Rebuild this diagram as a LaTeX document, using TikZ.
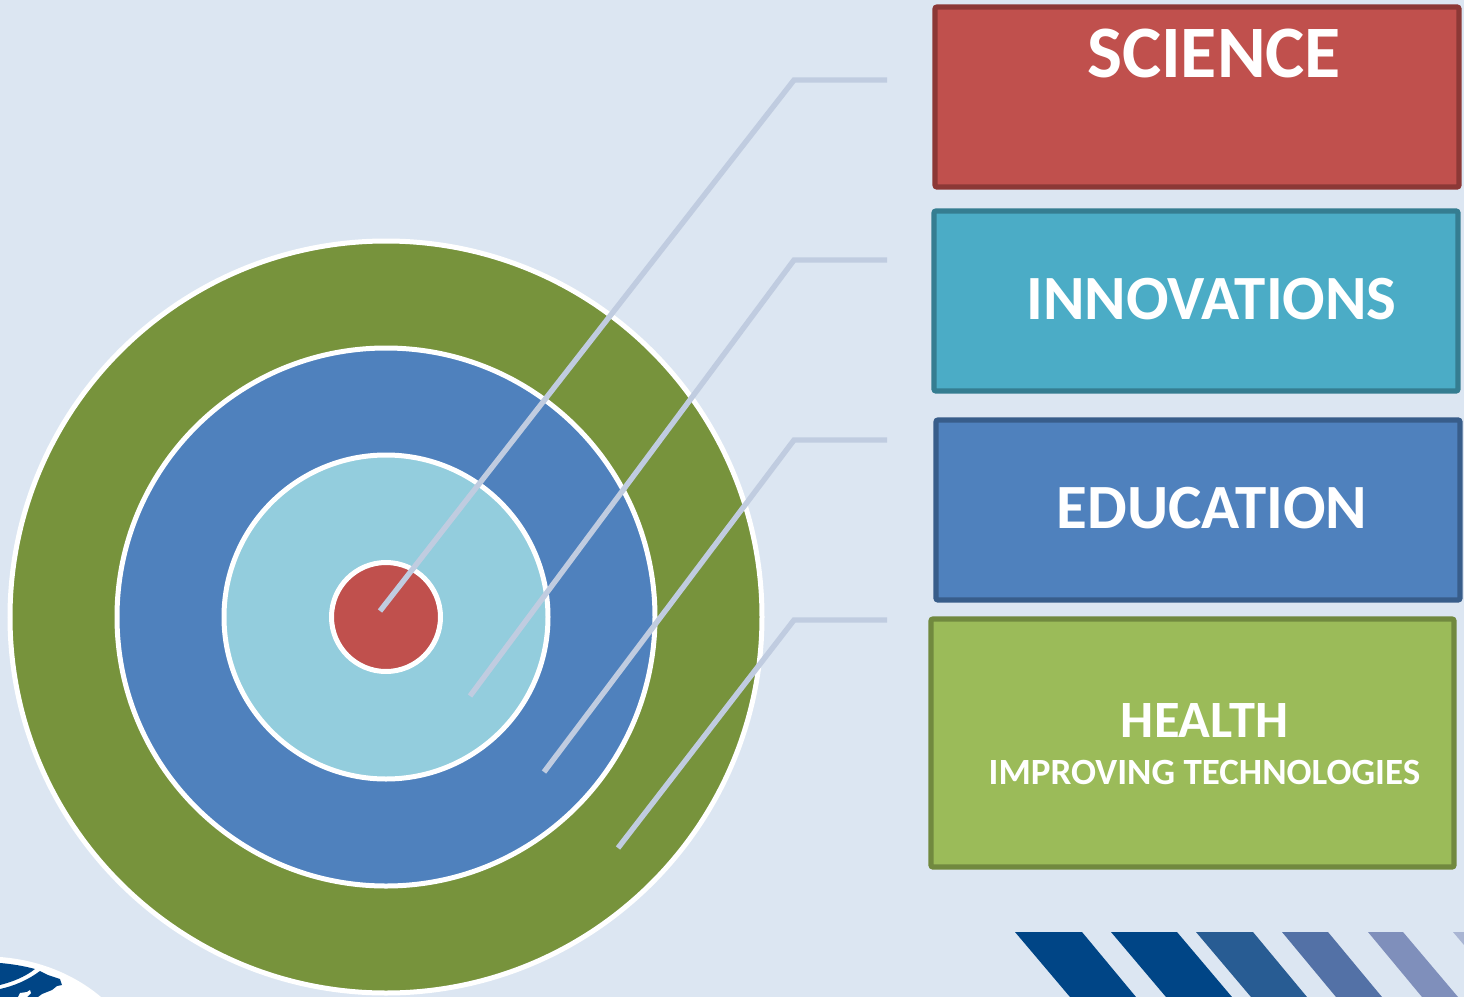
\documentclass[tikz,border=0pt]{standalone}
\usepackage{fontspec}
\setmainfont{Carlito}
\definecolor{bg}{HTML}{DCE6F2}
\definecolor{leader}{HTML}{C0CCE0}
\definecolor{cgreen}{HTML}{77933C}
\definecolor{cblue}{HTML}{4F81BD}
\definecolor{clight}{HTML}{93CDDD}
\definecolor{cred}{HTML}{C0504D}
\definecolor{bred}{HTML}{8C3836}
\definecolor{fteal}{HTML}{4BACC6}
\definecolor{bteal}{HTML}{357D91}
\definecolor{bblue}{HTML}{385D8A}
\definecolor{fgreen}{HTML}{9BBB59}
\definecolor{bgreen}{HTML}{71893F}
\definecolor{navy}{HTML}{004586}
\definecolor{st3}{HTML}{285C93}
\definecolor{st4}{HTML}{5371A6}
\definecolor{st5}{HTML}{7F8FBB}
\definecolor{st6}{HTML}{A9B5D3}
\tikzset{
  ring/.style={circle,draw=white,line width=2.5pt,inner sep=0pt,outer sep=0pt},
  catbox/.style={rounded corners=1pt,line width=2.6pt,text=white,font=\bfseries},
  leaderline/.style={draw=leader,line width=2.7pt,line join=miter},
}
\begin{document}
\begin{tikzpicture}[x=0.5pt,y=-0.5pt]
\path[use as bounding box,fill=bg] (0,0) rectangle (1464,997);
% rings
\node[ring,fill=cgreen,minimum size=376pt] (r1) at (386,617) {};
\node[ring,fill=cblue,minimum size=269pt] (r2) at (386,617) {};
\node[ring,fill=clight,minimum size=162pt] (r3) at (386,617) {};
\node[ring,fill=cred,minimum size=54.5pt] (r4) at (386,617) {};
% boxes
\draw[catbox,draw=bred,fill=cred] (935,7) rectangle (1459,187);
\draw[catbox,draw=bteal,fill=fteal] (934,211) rectangle (1458,391);
\draw[catbox,draw=bblue,fill=cblue] (936,420) rectangle (1460,600);
\draw[catbox,draw=bgreen,fill=fgreen] (931,619) rectangle (1454,867);
\node[text=white,font=\bfseries\fontsize{37}{40}\selectfont,anchor=center] (t1) at (1214,53) {SCIENCE};
\node[text=white,font=\bfseries\fontsize{31.5}{35}\selectfont,anchor=center] (t2) at (1211.5,299) {INNOVATIONS};
\node[text=white,font=\bfseries\fontsize{31.5}{35}\selectfont,anchor=center] (t3) at (1212,508) {EDUCATION};
\node[text=white,font=\bfseries\fontsize{26.2}{30}\selectfont,anchor=center] (t4) at (1204.5,721) {HEALTH};
\node[text=white,font=\bfseries\fontsize{18.5}{21}\selectfont,anchor=center] (t5) at (1204.5,772) {IMPROVING TECHNOLOGIES};
% leaders
\coordinate (a1) at (380,611); \coordinate (b1) at (794,80); \coordinate (c1) at (887,80);
\coordinate (a2) at (470,696); \coordinate (b2) at (794,260); \coordinate (c2) at (887,260);
\coordinate (a3) at (544,772); \coordinate (b3) at (794,440); \coordinate (c3) at (887,440);
\coordinate (a4) at (618,848); \coordinate (b4) at (794,620); \coordinate (c4) at (887,620);
\draw[leaderline] (a1) -- (b1) -- (c1);
\draw[leaderline] (a2) -- (b2) -- (c2);
\draw[leaderline] (a3) -- (b3) -- (c3);
\draw[leaderline] (a4) -- (b4) -- (c4);
% stripes
\fill[navy] (1015,932) -- (1082,932) -- (1136,997) -- (1070,997) -- cycle;
\fill[navy] (1111,932) -- (1177,932) -- (1232,997) -- (1166,997) -- cycle;
\fill[st3] (1196,932) -- (1253,932) -- (1307,997) -- (1251,997) -- cycle;
\fill[st4] (1282,932) -- (1328,932) -- (1382,997) -- (1336,997) -- cycle;
\fill[st5] (1368,932) -- (1403,932) -- (1458,997) -- (1422,997) -- cycle;
\fill[st6] (1453,932) -- (1464,932) -- (1464,945) -- cycle;
% globe
\begin{scope}
\clip (0,920) rectangle (160,997);
\fill[white] (0,957) .. controls (40,960) and (75,975) .. (101,997) -- (0,997) -- cycle;
\fill[navy] (0,963) .. controls (12,964) and (24,966) .. (35,969) .. controls (25,977) and (12,982) .. (0,985) -- cycle;
\fill[navy] (0,989) .. controls (14,986) and (28,980) .. (40,971) -- (48,975) -- (60,979) -- (62,985) -- (57,986) -- (52,990) -- (42,994) -- (38,997) -- (0,997) -- cycle;
\fill[white] (18,997) -- (20,993) -- (27,992) -- (30,990) -- (31,993) -- (27,997) -- cycle;
\end{scope}
\end{tikzpicture}
\end{document}
